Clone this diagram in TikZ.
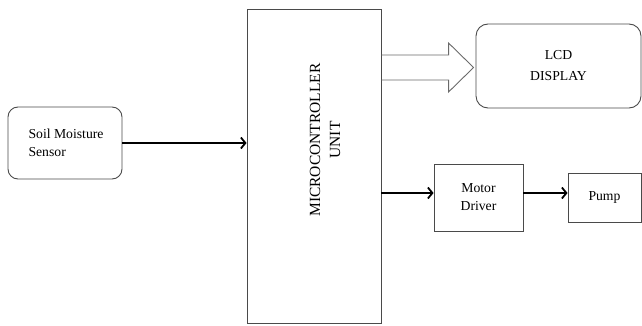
\documentclass[tikz,border=0pt]{standalone}
\usepackage{fontspec}
\setmainfont{Liberation Serif}
\usepackage{xcolor}
\usepackage{tikz}
\usetikzlibrary{arrows.meta,calc}
\definecolor{edge}{HTML}{4A4A4A}
\definecolor{hollowgray}{HTML}{6A6A6A}

\begin{document}
\begin{tikzpicture}[
  x=1pt, y=-1pt,
  every node/.style={font=\fontsize{13.7}{18}\selectfont},
  rbox/.style={draw=edge, line width=0.9pt, rounded corners=10pt,
              inner sep=0pt, align=center},
  sbox/.style={draw=edge, line width=0.9pt, inner sep=0pt, align=center},
  arr/.style={-{Straight Barb[length=4.5pt,width=11pt,line width=1.8pt]},
              line width=1.8pt, color=black},
  hollow/.style={draw=hollowgray, line width=0.9pt, line join=miter}
]
\useasboundingbox (0,0) rectangle (642,326);

\node[rbox, minimum width=114pt, minimum height=72pt] (sensor) at (65,143) {};
\node[align=left, anchor=west] (sensortxt) at (25,143) {Soil Moisture\\Sensor};
\node[sbox, minimum width=134pt, minimum height=314pt] (mcu) at (314,166) {};
\node[rotate=90, align=center, font=\fontsize{15.5}{20}\selectfont] (mcutxt) at (325,140)
  {MICROCONTROLLER\\UNIT};
\node[rbox, rounded corners=12pt, minimum width=165pt, minimum height=84pt,
      font=\fontsize{13.7}{21}\selectfont] (lcd) at (558.5,66) {LCD\\DISPLAY};
\node[sbox, minimum width=89pt, minimum height=67pt] (motor) at (478.5,197.5) {Motor\\Driver};
\node[sbox, minimum width=73pt, minimum height=49pt] (pump) at (604.5,197.5) {Pump};

\draw[arr] (sensor.east) -- (sensor.east -| mcu.west);
\draw[arr] ([yshift=4.5pt]mcu.east |- motor.west) -- ([yshift=4.5pt]motor.west);
\draw[arr] ([yshift=4.5pt]motor.east) -- ([yshift=4.5pt]motor.east -| pump.west);

% wide data arrow to the display
\draw[hollow] let \p1=(mcu.east), \p2=([xshift=-2pt,yshift=-1.5pt]lcd.west) in
  (\x1,\y2+12.5pt) -- (\x2-25pt,\y2+12.5pt) -- (\x2-25pt,\y2+24.5pt) -- (\x2,\y2)
  -- (\x2-25pt,\y2-24.5pt) -- (\x2-25pt,\y2-12.5pt) -- (\x1,\y2-12.5pt);
\end{tikzpicture}
\end{document}
